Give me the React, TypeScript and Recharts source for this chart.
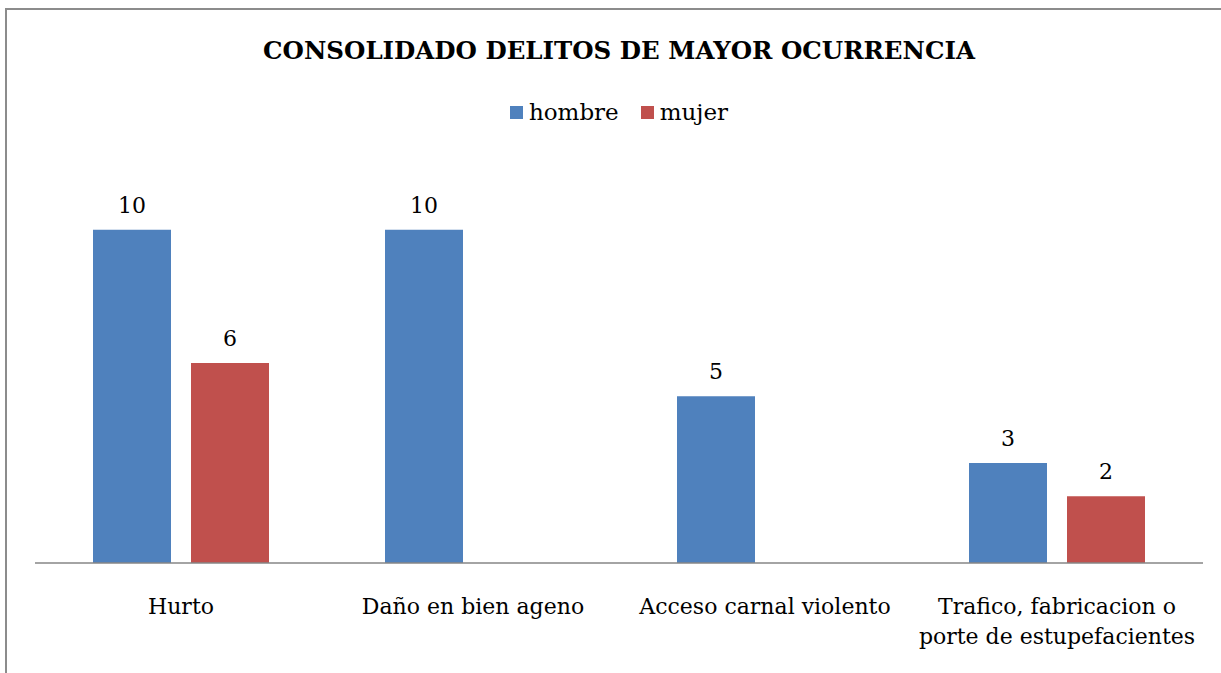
import { BarChart, Bar, XAxis, YAxis, LabelList } from "recharts";

const categories = [
  "Hurto",
  "Daño en bien ageno",
  "Acceso carnal violento",
  "Trafico, fabricacion o\nporte de estupefacientes",
];
const hombre = [10, 10, 5, 3];
const mujer: (number | null)[] = [6, null, null, 2];
const seriesNames = ["hombre", "mujer"];
const seriesColors = ["#4f81bd", "#c0504d"];

const data = categories.map((name, i) => ({
  name,
  hombre: hombre[i],
  mujer: mujer[i],
}));

const FONT = "'DejaVu Serif', serif";

function CategoryTick({ x, y, payload }: { x?: number; y?: number; payload?: { value: string } }) {
  const lines = String(payload?.value ?? "").split("\n");
  return (
    <text x={x} y={(y ?? 0) + 51} textAnchor="middle" fontFamily={FONT} fontSize={22} fill="#000">
      {lines.map((line, i) => (
        <tspan key={i} x={x} dy={i === 0 ? 0 : 30}>
          {line}
        </tspan>
      ))}
    </text>
  );
}

export default function App() {
  return (
    <div style={{ position: "absolute", left: 0, top: 0, width: 1221, height: 673, overflow: "hidden", background: "#fff" }}>
      <div
        style={{
          position: "absolute",
          left: 5,
          top: 8,
          width: 1300,
          height: 800,
          borderLeft: "2px solid #8c8c8c",
          borderTop: "2px solid #8c8c8c",
        }}
      />
      <div
        style={{
          position: "absolute",
          left: 0,
          top: 36,
          width: 1238,
          textAlign: "center",
          fontFamily: FONT,
          fontWeight: "bold",
          fontSize: 24.5,
          color: "#000",
        }}
      >
        CONSOLIDADO DELITOS DE MAYOR OCURRENCIA
      </div>
      <div
        style={{
          position: "absolute",
          left: 0,
          top: 99,
          width: 1238,
          display: "flex",
          justifyContent: "center",
          gap: 22,
          fontFamily: FONT,
          fontSize: 23,
        }}
      >
        {seriesNames.map((s, i) => (
          <span key={s} style={{ display: "flex", alignItems: "center" }}>
            <span style={{ width: 13, height: 13, background: seriesColors[i], marginRight: 6, display: "inline-block" }} />
            {s}
          </span>
        ))}
      </div>
      <div style={{ position: "absolute", left: 0, top: 0 }}>
        <BarChart
          width={1221}
          height={673}
          data={data}
          margin={{ top: 163, right: 18, bottom: 80, left: 35 }}
          barCategoryGap={58}
          barGap={20}
        >
          <XAxis
            dataKey="name"
            height={30}
            tickLine={false}
            tickSize={0}
            tickMargin={0}
            axisLine={{ stroke: "#868686", strokeWidth: 1.5 }}
            tick={<CategoryTick />}
            interval={0}
          />
          <YAxis hide domain={[0, 12]} />
          {seriesNames.map((s, i) => (
            <Bar key={s} dataKey={s} fill={seriesColors[i]} barSize={78} isAnimationActive={false}>
              <LabelList dataKey={s} position="top" offset={17} fontFamily={FONT} fontSize={22} fill="#000" />
            </Bar>
          ))}
        </BarChart>
      </div>
    </div>
  );
}
